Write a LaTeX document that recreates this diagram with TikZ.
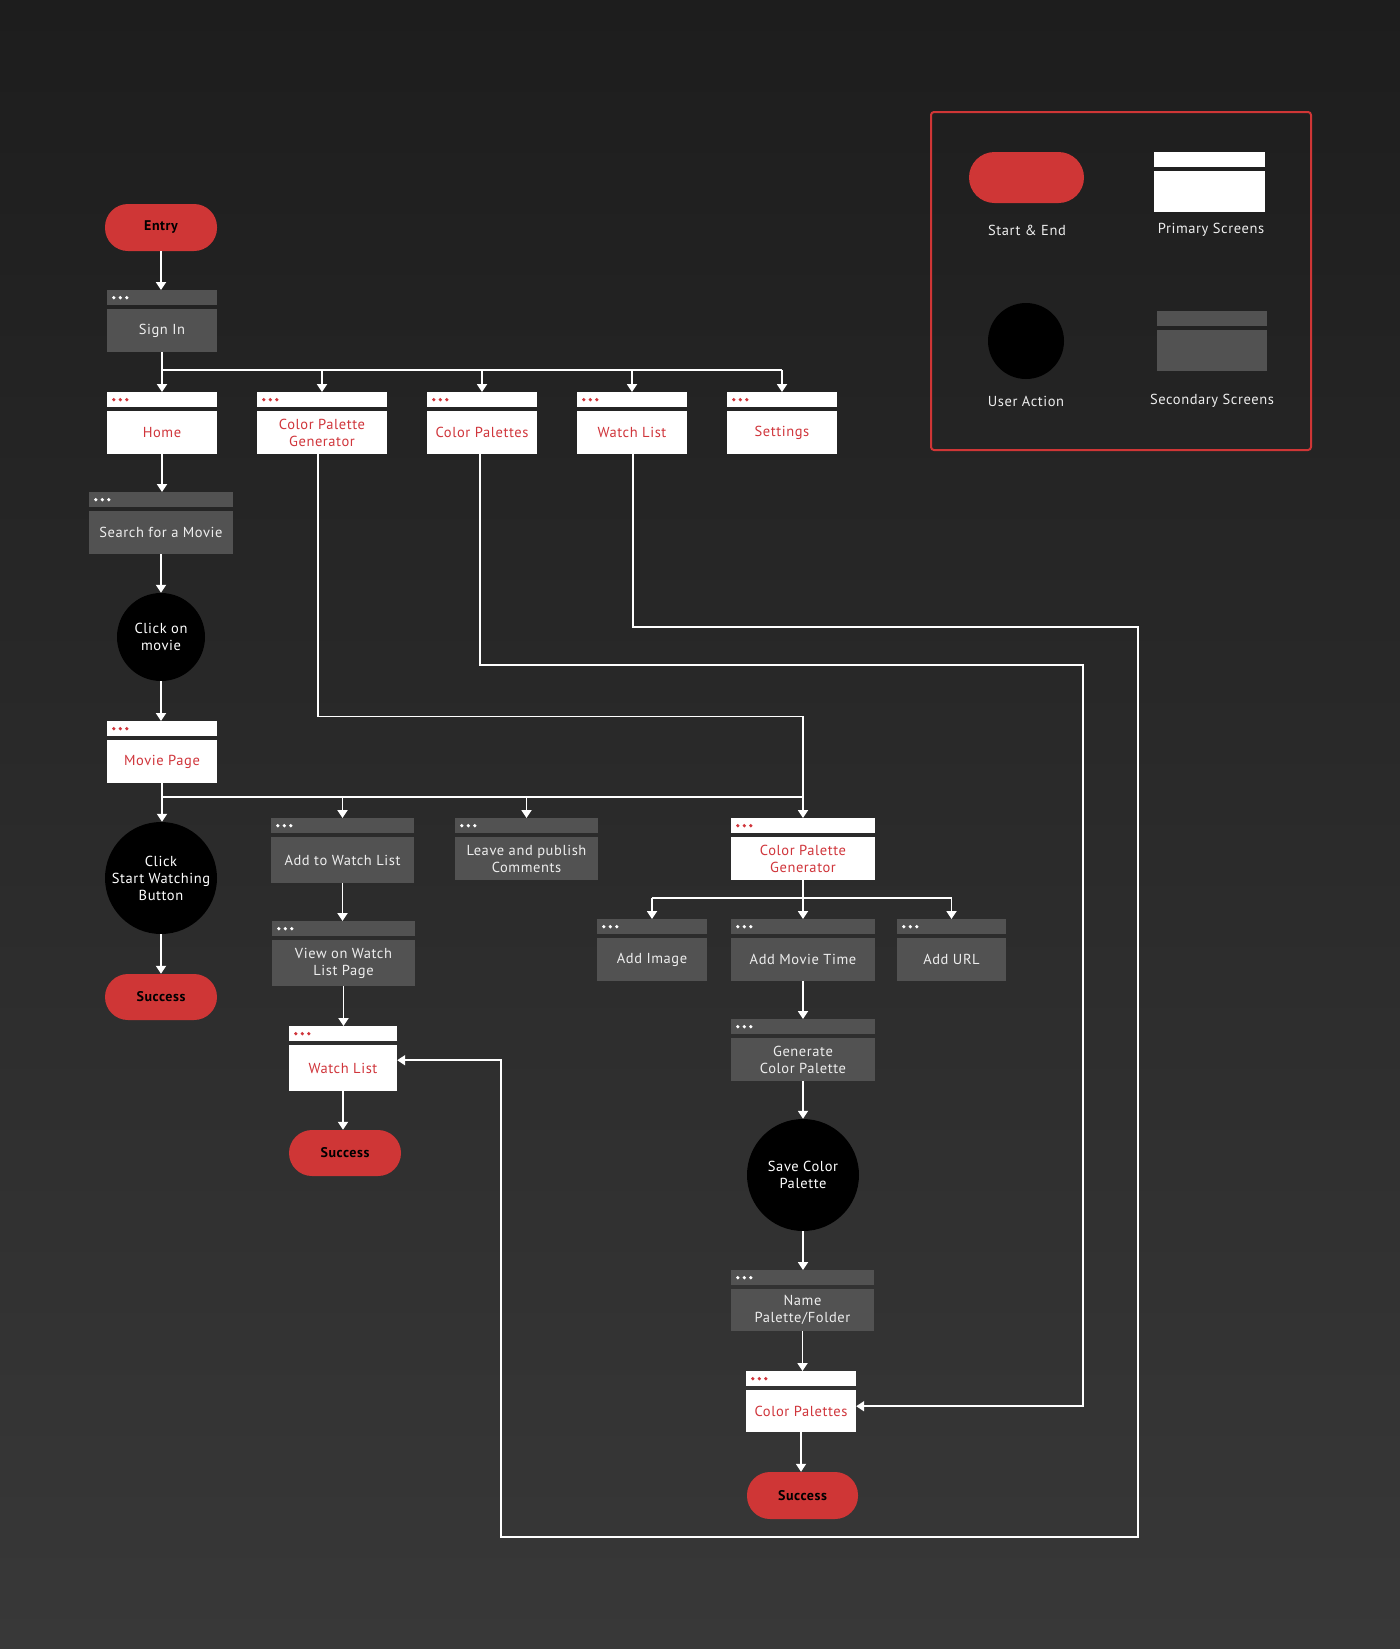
\documentclass[tikz,border=0pt]{standalone}
\usepackage{fontspec}
\setmainfont{PT Sans}[LetterSpace=4]
\usetikzlibrary{arrows.meta,calc}
\definecolor{bgtop}{HTML}{1D1D1D}
\definecolor{bgbot}{HTML}{383838}
\definecolor{pillred}{HTML}{CF3636}
\definecolor{txtred}{HTML}{D0353B}
\definecolor{sgray}{HTML}{525252}
\definecolor{txtlight}{HTML}{EEEEEE}
\tikzset{
  lnk/.style={white, line width=1.8pt},
  arr/.style={lnk, -{Triangle[width=10pt,length=8pt]}},
  pbar/.style={fill=white, draw=none, inner sep=0pt, minimum height=15pt, anchor=north},
  sbar/.style={fill=sgray, draw=none, inner sep=0pt, minimum height=15pt, anchor=north},
  pmain/.style={fill=white, text=txtred, inner sep=1pt, align=center, anchor=north},
  smain/.style={fill=sgray, text=txtlight, inner sep=1pt, align=center, anchor=north},
  pdot/.style={fill=txtred},
  sdot/.style={fill=white},
  act/.style={circle, fill=black, text=white, align=center, inner sep=0pt},
  pill/.style={fill=pillred, text=black, rounded corners=23pt, inner sep=0pt,
    font=\fontsize{14}{17}\selectfont\bfseries},
  lab/.style={text=txtlight}
}
% #1 name, #2 cx, #3 bar top y, #4 width, #5 main height, #6 p/s, #7 text
\newcommand\scrn[7]{%
  \node[#6bar, minimum width=#4pt] (#1-bar) at (#2,#3) {};
  \node[#6main, minimum width=#4pt, minimum height=#5pt] (#1) at (#2,#3+19) {#7};
  \fill[#6dot] (#1-bar.west) ++(7,0) circle (1.8) ++(6.5,0) circle (1.8) ++(6.5,0) circle (1.8);
}
% straight vertical arrow from a node's bottom to the top of another
\newcommand\varr[2]{\draw[arr] (#1) -- (#1 |- #2);}
\begin{document}
\begin{tikzpicture}[x=1pt,y=-1pt, font=\fontsize{14.5}{17}\selectfont]
\useasboundingbox (0,0) rectangle (1400,1649);
\shade[top color=bgtop,bottom color=bgbot] (0,0) rectangle (1400,1649);

% ---------- legend ----------
\draw[pillred, line width=2pt, rounded corners=3pt] (931,112) rectangle (1311,450);
\node[pill, minimum width=115pt, minimum height=51pt, rounded corners=25.5pt] (lgpill) at (1026.5,177.5) {};
\node[lab] (lgpill-l) at (1027,230) {Start \& End};
\node[pbar, minimum width=111pt] (lgp-bar) at (1209.5,152) {};
\node[pmain, minimum width=111pt, minimum height=41pt] (lgp) at (1209.5,171) {};
\node[lab] (lgp-l) at (1211,230) {Primary Screens};
\node[act, minimum size=76pt] (lgact) at (1026,341) {};
\node[lab] (lgact-l) at (1026,401) {User Action};
\node[sbar, minimum width=110pt] (lgs-bar) at (1212,311) {};
\node[smain, minimum width=110pt, minimum height=41pt] (lgs) at (1212,330) {};
\node[lab] (lgs-l) at (1212,401) {Secondary Screens};

% ---------- nodes ----------
\node[pill, minimum width=112pt, minimum height=47pt] (entry) at (161,227.5) {Entry};
\scrn{signin}{162}{290}{110}{43}{s}{Sign In}
\scrn{home}{162}{392}{110}{43}{p}{Home}
\scrn{cpg1}{322}{392}{130}{43}{p}{Color Palette\\Generator}
\scrn{cp1}{482}{392}{110}{43}{p}{Color Palettes}
\scrn{wl1}{632}{392}{110}{43}{p}{Watch List}
\scrn{settings}{782}{392}{110}{43}{p}{Settings}
\scrn{search}{161}{492}{144}{43}{s}{Search for a Movie}
\node[act, minimum size=88pt] (clickmovie) at (161,637) {Click on\\movie};
\scrn{moviepage}{162}{721}{110}{43}{p}{Movie Page}
\node[act, minimum size=112pt] (startwatch) at (161,878) {Click\\Start Watching\\Button};
\node[pill, minimum width=112pt, minimum height=46pt] (success1) at (161,997) {Success};
\scrn{addwl}{342.5}{818}{143}{46}{s}{Add to Watch List}
\scrn{leave}{526.5}{818}{143}{43}{s}{Leave and publish\\Comments}
\scrn{cpg2}{803}{818}{144}{43}{p}{Color Palette\\Generator}
\scrn{viewwl}{343.5}{921}{143}{46}{s}{View on Watch\\List Page}
\scrn{wl2}{343}{1026}{108}{46}{p}{Watch List}
\node[pill, minimum width=112pt, minimum height=46pt] (success2) at (345,1153) {Success};
\scrn{addimg}{652}{919}{110}{43}{s}{Add Image}
\scrn{addmovie}{803}{919}{144}{43}{s}{Add Movie Time}
\scrn{addurl}{951.5}{919}{109}{43}{s}{Add URL}
\scrn{generate}{803}{1019}{144}{43}{s}{Generate\\Color Palette}
\node[act, minimum size=112pt] (save) at (803,1175) {Save Color\\Palette};
\scrn{name}{802.5}{1270}{143}{42}{s}{Name\\Palette/Folder}
\scrn{cp2}{801}{1371}{110}{42}{p}{Color Palettes}
\node[pill, minimum width=111pt, minimum height=47pt] (success3) at (802.5,1495.5) {Success};

% ---------- connectors ----------
\coordinate (j1) at (0,370);
\coordinate (j2) at (0,797);
\coordinate (j3) at (0,898);
\varr{entry.south}{signin-bar.north}
\varr{signin.south}{home-bar.north}
\draw[lnk] (signin.south |- j1) -- (settings-bar.north |- j1);
\foreach \n in {cpg1,cp1,wl1,settings}
  \draw[arr] (\n-bar.north |- j1) -- (\n-bar.north);
\varr{home.south}{search-bar.north}
\varr{search.south}{clickmovie.north}
\varr{clickmovie.south}{moviepage-bar.north}
\varr{moviepage.south}{startwatch.north}
\draw[lnk] (moviepage.south |- j2) -- (cpg2-bar.north |- j2);
\foreach \n in {addwl,leave}
  \draw[arr] (\n-bar.north |- j2) -- (\n-bar.north);
\varr{startwatch.south}{success1.north}
\varr{addwl.south}{viewwl-bar.north}
\varr{viewwl.south}{wl2-bar.north}
\varr{wl2.south}{success2.north}
\draw[arr] ([xshift=-4pt]cpg1.south) -- ++(0,262) -| (cpg2-bar.north);
\varr{cpg2.south}{addmovie-bar.north}
\draw[lnk] (addimg-bar.north |- j3) -- (addurl-bar.north |- j3);
\foreach \n in {addimg,addurl}
  \draw[arr] (\n-bar.north |- j3) -- (\n-bar.north);
\varr{addmovie.south}{generate-bar.north}
\varr{generate.south}{save.north}
\varr{save.south}{name-bar.north}
\varr{name.south}{cp2-bar.north}
\varr{cp2.south}{success3.north}
\coordinate (c1) at (1083,665);
\draw[arr] ([xshift=-2pt]cp1.south) |- (c1) |- ([yshift=5pt]cp2.east);
\coordinate (w1) at (1138,627);
\coordinate (w2) at (501,1537);
\draw[arr] ([xshift=1pt]wl1.south) |- (w1) |- (w2) |- ([yshift=8pt]wl2.east);
\end{tikzpicture}
\end{document}
